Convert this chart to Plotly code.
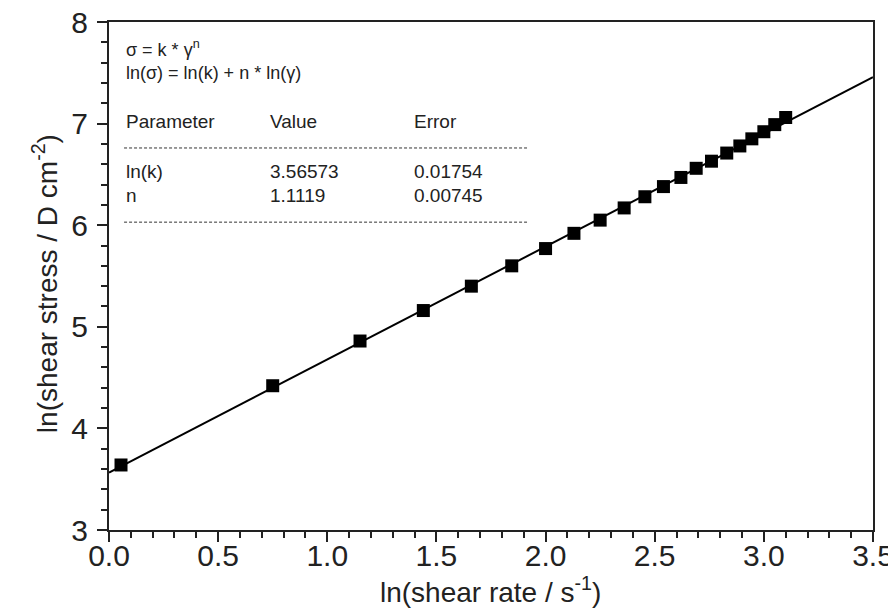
import plotly.graph_objects as go

# Data
shear_rate_ln = [0.055, 0.75, 1.15, 1.44, 1.66, 1.845, 2.0, 2.13, 2.25, 2.36, 2.455,
                 2.54, 2.62, 2.69, 2.76, 2.83, 2.89, 2.945, 3.0, 3.05, 3.10]
shear_stress_ln = [3.64, 4.42, 4.86, 5.16, 5.40, 5.60, 5.77, 5.92, 6.05, 6.17, 6.28,
                   6.38, 6.47, 6.56, 6.63, 6.71, 6.78, 6.85, 6.92, 6.99, 7.06]

# Fit parameters (as printed in the chart)
param_names = ["ln(k)", "n"]
param_values = ["3.56573", "1.1119"]
param_errors = ["0.01754", "0.00745"]
ln_k = 3.56573
n_exp = 1.1119
fit_x = [0.0, 3.5]

x_ticks = [0.0, 0.5, 1.0, 1.5, 2.0, 2.5, 3.0, 3.5]
x_ticklabels = ["0.0", "0.5", "1.0", "1.5", "2.0", "2.5", "3.0", "3.5"]
y_ticks = [3, 4, 5, 6, 7, 8]

FONT = "Liberation Sans, Arial, sans-serif"

fig = go.Figure()
fig.add_trace(go.Scatter(
    x=fit_x, y=[ln_k + n_exp * v for v in fit_x], mode="lines",
    line=dict(color="black", width=2), showlegend=False, hoverinfo="skip"))
fig.add_trace(go.Scatter(
    x=shear_rate_ln, y=shear_stress_ln, mode="markers",
    marker=dict(symbol="square", size=13, color="black", line=dict(width=0)),
    showlegend=False))

ann_font = dict(family=FONT, size=19, color="#222")
small_font = dict(family=FONT, size=18, color="#222")
annotations = [
    dict(x=0.069, y=7.744, text="σ = k * γ<sup>n</sup>", font=small_font),
    dict(x=0.069, y=7.498, text="ln(σ) = ln(k) + n * ln(γ)", font=small_font),
    dict(x=0.069, y=7.016, text="Parameter", font=ann_font),
    dict(x=0.728, y=7.016, text="Value", font=ann_font),
    dict(x=1.388, y=7.016, text="Error", font=ann_font),
]
row_y = [6.524, 6.297]
for name, val, err, yy in zip(param_names, param_values, param_errors, row_y):
    annotations.append(dict(x=0.069, y=yy, text=name, font=ann_font))
    annotations.append(dict(x=0.728, y=yy, text=val, font=ann_font))
    annotations.append(dict(x=1.388, y=yy, text=err, font=ann_font))
for a in annotations:
    a.update(xref="x", yref="y", xanchor="left", yanchor="middle", showarrow=False)

# Axis titles
annotations.append(dict(xref="paper", yref="paper", x=0.499, y=0, yshift=-60,
                        xanchor="center", yanchor="middle", showarrow=False,
                        text="ln(shear rate / s<sup>-1</sup>)",
                        font=dict(family=FONT, size=28, color="#222")))
annotations.append(dict(xref="paper", yref="paper", x=0, y=0.484, xshift=-64,
                        xanchor="center", yanchor="middle", showarrow=False, textangle=-90,
                        text="ln(shear stress / D cm<sup>-2</sup>)",
                        font=dict(family=FONT, size=28, color="#222")))

shapes = []
for yy in [6.76, 6.03]:
    shapes.append(dict(type="line", xref="x", yref="y", x0=0.069, x1=1.915, y0=yy, y1=yy,
                       line=dict(color="#333", width=1, dash="3px,2px")))

axis_common = dict(
    showline=True, linecolor="#222", linewidth=2, mirror=True,
    ticks="outside", ticklen=10, tickwidth=1.5, tickcolor="#222",
    showgrid=False, zeroline=False, automargin=False, ticklabeloverflow="allow",
    tickfont=dict(family=FONT, size=30, color="#222"),
)

# The page body has an 8px margin, so the figure is sized/offset to compensate
fig.update_layout(
    width=888, height=603,
    margin=dict(l=101, r=23, t=14, b=81),
    plot_bgcolor="white", paper_bgcolor="white",
    annotations=annotations, shapes=shapes,
    xaxis=dict(range=[0, 3.5], tickvals=x_ticks, ticktext=x_ticklabels,
               ticklabelstandoff=-12,
               minor=dict(dtick=0.1, ticks="outside", ticklen=6, tickcolor="#222", tickwidth=1.5),
               **axis_common),
    yaxis=dict(range=[3, 8], tickvals=y_ticks, ticklabelstandoff=3,
               minor=dict(dtick=0.2, ticks="outside", ticklen=6, tickcolor="#222", tickwidth=1.5),
               **axis_common),
)

fig.write_html("out.html")
